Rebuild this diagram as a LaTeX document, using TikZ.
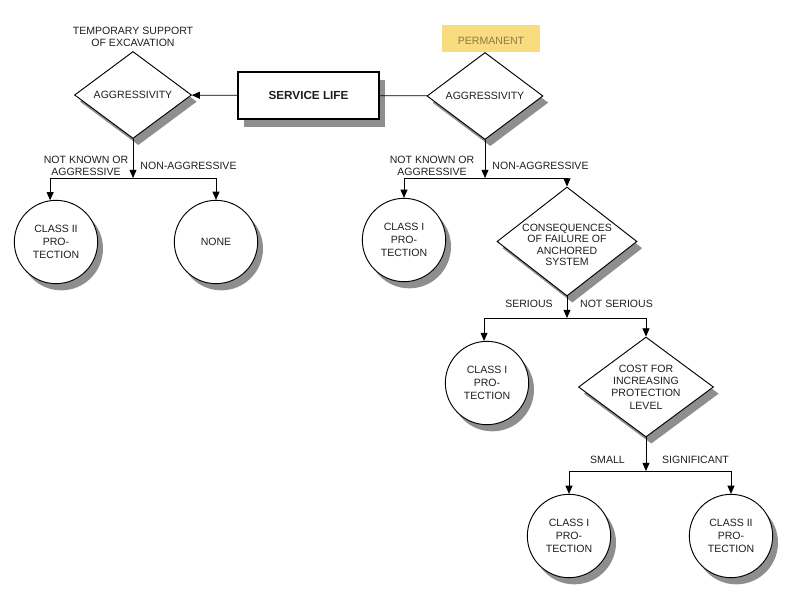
\documentclass[tikz,border=0pt]{standalone}
\usepackage{fontspec}
\setmainfont{Liberation Sans}
\usetikzlibrary{shapes.geometric,shadows,arrows.meta}
\definecolor{shadowgray}{HTML}{8E8E8E}
\definecolor{permfill}{HTML}{F9DB80}
\definecolor{permtext}{HTML}{8A7A45}
\definecolor{inktext}{HTML}{1E1E1E}
\begin{document}
\begin{tikzpicture}[
            x=0.03cm,
            y=-0.03cm,
            every node/.style={font=\fontsize{9}{10.8}\selectfont, text=inktext, align=center},
            grey shadow/.style={drop shadow={shadow xshift=0.16cm, shadow yshift=-0.2cm, fill=shadowgray, opacity=1}},
            decision/.style={diamond, draw, fill=white, line width=0.8pt, inner sep=0pt, grey shadow},
            outcome/.style={circle, draw, fill=white, line width=0.8pt, minimum size=2.5cm, inner sep=0pt, grey shadow},
            branch label/.style={inner sep=0pt},
            flow/.style={-{Triangle[length=7pt,width=6pt]}, line width=0.7pt}
        ]
        \useasboundingbox (0,0) rectangle (801,609);

        % start box and first decisions
        \node[draw, fill=white, line width=1.4pt, minimum width=4.23cm, minimum height=1.41cm,
            drop shadow={shadow xshift=0.18cm, shadow yshift=-0.24cm, fill=shadowgray, opacity=1},
            font=\fontsize{10}{12}\selectfont\bfseries] (life) at (308.5,95.5) {SERVICE LIFE};
        \node[decision, minimum width=3.51cm, minimum height=2.61cm, label=center:AGGRESSIVITY] (aggtemp) at (133,95) {};
        \node[decision, minimum width=3.48cm, minimum height=2.61cm, label=center:AGGRESSIVITY] (aggperm) at (485,96) {};
        \node[decision, minimum width=4.2cm, minimum height=3.27cm,
            label={[align=center, font=\fontsize{9}{9.7}\selectfont, yshift=-3pt]center:CONSEQUENCES\\OF FAILURE OF\\ANCHORED\\SYSTEM}] (conseq) at (567,241.5) {};
        \node[decision, minimum width=4.05cm, minimum height=3.0cm,
            label={[align=center, font=\fontsize{9}{10.5}\selectfont]center:COST FOR\\INCREASING\\PROTECTION\\LEVEL}] (cost) at (646,387) {};

        \node[fill=permfill, text=permtext, minimum width=2.94cm, minimum height=0.81cm, inner sep=0pt,
            text height=10pt, text depth=0pt] (perm) at (491,38.5) {PERMANENT};

        % outcomes
        \foreach \id/\px/\py/\txt in {
                clIIa/56/242/{CLASS II\\PRO-\\TECTION},
                none/216/242/{NONE},
                clIa/404/240/{CLASS I\\PRO-\\TECTION},
                clIb/487/383/{CLASS I\\PRO-\\TECTION},
                clIc/569/536/{CLASS I\\PRO-\\TECTION},
                clIIb/731/536/{CLASS II\\PRO-\\TECTION}} {
                \node[outcome] (\id) at (\px,\py) {\txt};
            }

        % branch labels
        \node[branch label] (tempnote) at (133,37) {TEMPORARY SUPPORT\\OF EXCAVATION};
        \node[branch label] (unkna) at (86,166) {NOT KNOWN OR\\AGGRESSIVE};
        \node[branch label] (nonaggra) at (188.5,166) {NON-AGGRESSIVE};
        \node[branch label] (unknb) at (432,166) {NOT KNOWN OR\\AGGRESSIVE};
        \node[branch label] (nonaggrb) at (540.5,166) {NON-AGGRESSIVE};
        \node[branch label] (serious) at (529,304) {SERIOUS};
        \node[branch label] (notserious) at (616.5,304) {NOT SERIOUS};
        \node[branch label] (small) at (607.5,460) {SMALL};
        \node[branch label] (signif) at (695.5,460) {SIGNIFICANT};

        \coordinate (ja) at (133,178);
        \coordinate (jb) at (485,178);
        \coordinate (jc) at (567,318);
        \coordinate (jd) at (646,471);

        \draw[flow] (life) -- (aggtemp);
        \draw[line width=0.7pt] (life) -- (aggperm);

        % decision to junction, then junction to both branches
        \foreach \dec/\join/\lft/\rgt in {
                aggtemp/ja/clIIa.98/none,
                aggperm/jb/clIa/conseq,
                conseq/jc/clIb.94/cost,
                cost/jd/clIc/clIIb} {
                \draw[flow] (\dec) -- (\join);
                \draw[flow] (\join) -| (\lft);
                \draw[flow] (\join) -| (\rgt);
            }
    \end{tikzpicture}
\end{document}
